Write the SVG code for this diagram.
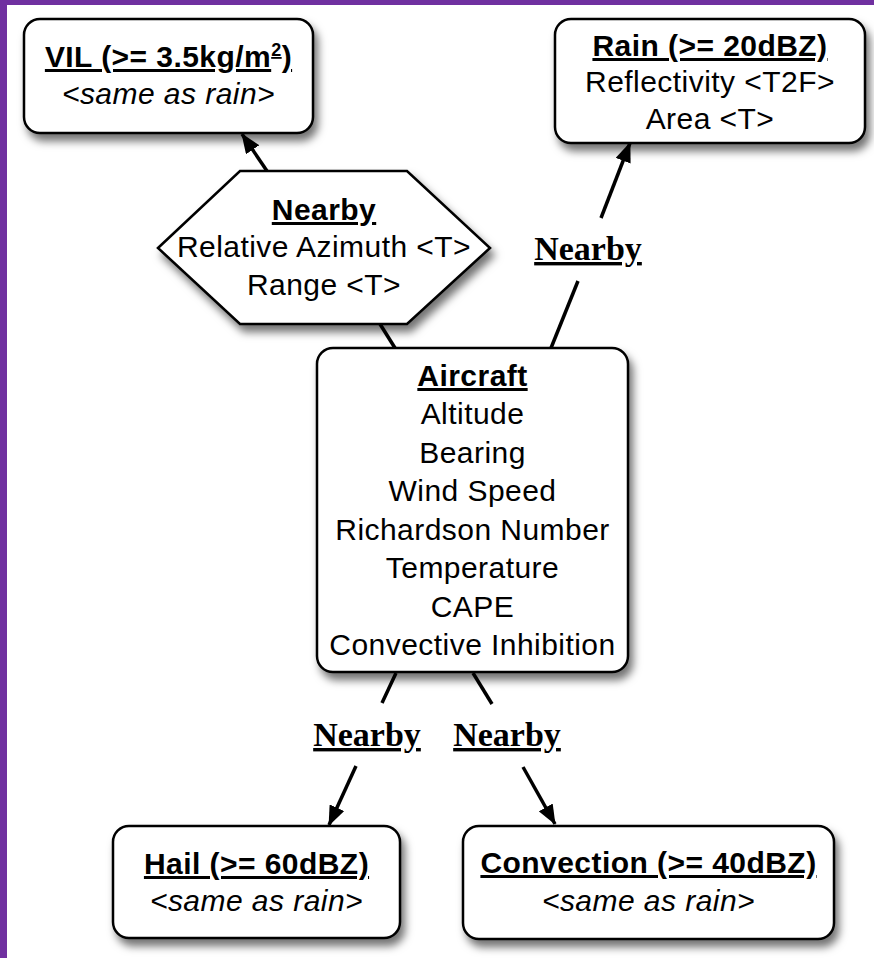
<svg xmlns="http://www.w3.org/2000/svg" width="874" height="958" viewBox="0 0 874 958">
<defs>
<filter id="sh" x="-10%" y="-10%" width="130%" height="140%">
<feDropShadow dx="4" dy="7" stdDeviation="4" flood-color="#000" flood-opacity="0.55"/>
</filter>
<marker id="ah" markerUnits="userSpaceOnUse" markerWidth="20" markerHeight="16" refX="19" refY="8" orient="auto">
<path d="M0,0 L20,8 L0,16 z" fill="#000"/>
</marker>
<style>
.box{fill:#fff;stroke:#000;stroke-width:2.5;filter:url(#sh)}
.t{font-family:"Liberation Sans",Arial,sans-serif;font-size:30px;letter-spacing:0.45px;text-anchor:middle;fill:#000}
.b{font-weight:bold;text-decoration:underline}
.i{font-style:italic}
.lbl{font-family:"Liberation Serif","Times New Roman",serif;font-size:34px;font-weight:bold;text-decoration:underline;text-anchor:middle;fill:#000}
.c{stroke:#000;stroke-width:3.5;fill:none}
</style>
</defs>
<rect x="0" y="0" width="874" height="958" fill="#fff"/>
<rect x="0" y="0" width="874" height="5" fill="#7030A0"/>
<rect x="0" y="0" width="7" height="958" fill="#7030A0"/>

<g id="connectors">
<line class="c" x1="267" y1="171" x2="242" y2="134" marker-end="url(#ah)"/>
<line class="c" x1="380" y1="324" x2="395" y2="348"/>
<line class="c" x1="551" y1="348" x2="578" y2="281"/>
<line class="c" x1="601" y1="218" x2="630" y2="143" marker-end="url(#ah)"/>
<text class="lbl" x="588" y="260">Nearby</text>
<line class="c" x1="396" y1="673" x2="382" y2="703"/>
<line class="c" x1="356" y1="766" x2="329" y2="825" marker-end="url(#ah)"/>
<text class="lbl" x="367" y="746">Nearby</text>
<line class="c" x1="473" y1="673" x2="492" y2="704"/>
<line class="c" x1="523" y1="767" x2="555" y2="824" marker-end="url(#ah)"/>
<text class="lbl" x="507" y="746">Nearby</text>
</g>

<g id="vil">
<rect class="box" x="24" y="19" width="289" height="114" rx="16"/>
<text class="t b" x="168.5" y="67">VIL (&gt;= 3.5kg/m<tspan font-size="18" dy="-11">2</tspan><tspan dy="11">)</tspan></text>
<text class="t i" x="168.5" y="104">&lt;same as rain&gt;</text>
</g>

<g id="rain">
<rect class="box" x="555" y="19" width="310" height="124" rx="16"/>
<text class="t b" x="710" y="56">Rain (&gt;= 20dBZ)</text>
<text class="t" x="710" y="92">Reflectivity &lt;T2F&gt;</text>
<text class="t" x="710" y="129">Area &lt;T&gt;</text>
</g>

<g id="nearby-hex">
<polygon class="box" points="158,248 240,171 407,171 490,248 407,324 240,324"/>
<text class="t b" x="324" y="220">Nearby</text>
<text class="t" x="324" y="257">Relative Azimuth &lt;T&gt;</text>
<text class="t" x="324" y="295">Range &lt;T&gt;</text>
</g>

<g id="aircraft">
<rect class="box" x="317" y="348" width="311" height="324" rx="16"/>
<text class="t b" x="472.5" y="386">Aircraft</text>
<text class="t" x="472.5" y="424">Altitude</text>
<text class="t" x="472.5" y="463">Bearing</text>
<text class="t" x="472.5" y="501">Wind Speed</text>
<text class="t" x="472.5" y="540">Richardson Number</text>
<text class="t" x="472.5" y="578">Temperature</text>
<text class="t" x="472.5" y="617">CAPE</text>
<text class="t" x="472.5" y="655">Convective Inhibition</text>
</g>

<g id="hail">
<rect class="box" x="113" y="826" width="287" height="112" rx="16"/>
<text class="t b" x="256.5" y="874">Hail (&gt;= 60dBZ)</text>
<text class="t i" x="256.5" y="911">&lt;same as rain&gt;</text>
</g>

<g id="convection">
<rect class="box" x="463" y="826" width="371" height="113" rx="16"/>
<text class="t b" x="648.5" y="873">Convection (&gt;= 40dBZ)</text>
<text class="t i" x="648.5" y="911">&lt;same as rain&gt;</text>
</g>
</svg>
